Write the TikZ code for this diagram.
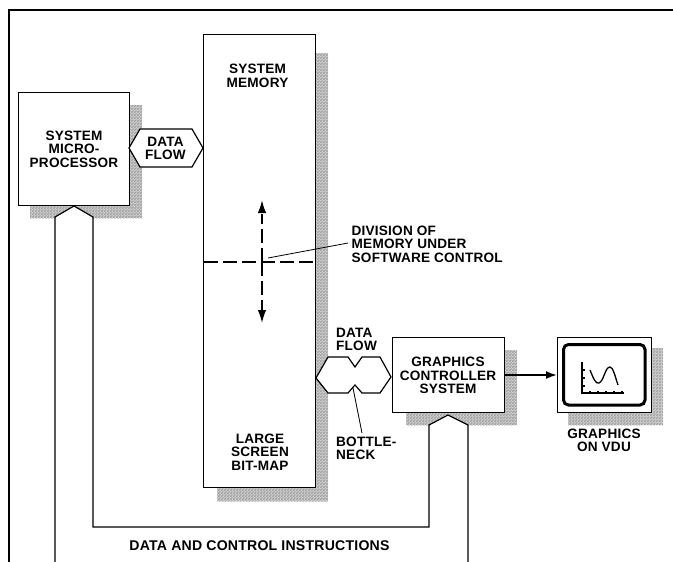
\documentclass[tikz,border=0pt]{standalone}
\usepackage{fontspec}
\setmainfont[LetterSpace=1.5]{Liberation Sans}
\usetikzlibrary{arrows.meta,patterns}
\definecolor{shade}{gray}{0.82}
\pgfdeclarepatternformonly{dither}{\pgfqpoint{-0.5pt}{-0.5pt}}{\pgfqpoint{2.5pt}{2.5pt}}{\pgfqpoint{3pt}{3pt}}{%
  \pgfpathrectangle{\pgfqpoint{0pt}{0pt}}{\pgfqpoint{1.2pt}{1.2pt}}%
  \pgfpathrectangle{\pgfqpoint{1.5pt}{1.5pt}}{\pgfqpoint{1.2pt}{1.2pt}}%
  \pgfusepath{fill}}
\tikzset{
  y=-1pt,x=1pt,
  box/.style={draw=black,line width=1.3pt,fill=white,line join=miter,inner sep=0pt,anchor=north west},
  pipe/.style={draw=black,line width=1.2pt,fill=white,line join=miter},
  shadow/.style={fill=shade,postaction={pattern=dither,pattern color=black!65},draw=none},
  lbl/.style={font=\bfseries\fontsize{13.6}{13.6}\selectfont,align=center,inner sep=0pt,text=black},
  thin line/.style={draw=black,line width=0.8pt},
  dash line/.style={draw=black,line width=1.4pt,dash pattern=on 14pt off 5pt},
  tip/.style={-{Latex[length=13pt,width=8.5pt]}}
}
\begin{document}
\begin{tikzpicture}
\useasboundingbox (0,0) rectangle (673,562);
\fill[white] (0,0) rectangle (673,562);
% outer frame
\coordinate (fbl) at (9,562);
\coordinate (ftl) at (9,9.5);
\coordinate (ftr) at (673,9.5);
\draw[line width=2pt] (fbl) -- (ftl) -- (ftr);
% shadows
\fill[shadow] (125,105) rectangle (142,218);
\fill[shadow] (30,200) rectangle (125,218);
\fill[shadow] (310,53) rectangle (328,501);
\fill[shadow] (217,480) rectangle (310,501);
\fill[shadow] (500,350) rectangle (517,425);
\fill[shadow] (406,408) rectangle (500,425);
\fill[shadow] (640,348) rectangle (663,425);
\fill[shadow] (568,408) rectangle (640,425);
% data/control pipe
\coordinate (cpa) at (55,562);
\coordinate (cpb) at (93,527);
\coordinate (cpc) at (429,527);
\coordinate (cpd) at (468,562);
\draw[pipe] (cpa) -- (55,217) -- (74,206) -- (93,217) -- (cpb) -- (cpc) -- (429,425) -- (448,415) -- (468,425) -- (cpd);
% boxes
\node[box,minimum width=111.5pt,minimum height=113.5pt] (cpu) at (17.5,91.5) {};
\node[box,minimum width=112pt,minimum height=453pt] (mem) at (203,34) {};
\node[box,minimum width=112pt,minimum height=75pt] (gfx) at (392,337) {};
% hexagon data flow
\draw[pipe] (129,148) -- (140,129) -- (192,129) -- (203,148) -- (192,167) -- (140,167) -- cycle;
\node[lbl] (df1) at (165.5,148.5) {DATA\\FLOW};
% bottleneck
\draw[pipe] (316,378) -- (328,357) -- (348,357) -- (355,367) -- (362,357) -- (380,357) -- (391,377) -- (380,393) -- (362,393) -- (355,385) -- (348,393) -- (328,393) -- cycle;
\node[lbl,align=left,anchor=west] (df2) at (336,339.5) {DATA\\FLOW};
\node[lbl,align=left,anchor=west] (bn) at (336,448.5) {BOTTLE-\\NECK};
\draw[thin line] (353,388) -- (362,433);
% labels
\node[lbl] at (74,149) {SYSTEM\\MICRO-\\PROCESSOR};
\node[lbl] (sm) at (257.5,76) {SYSTEM\\MEMORY};
\node[lbl] (ls) at (260,452) {LARGE\\SCREEN\\BIT-MAP};
\node[lbl] at (448,375.5) {GRAPHICS\\CONTROLLER\\SYSTEM};
% division
\coordinate (dl) at (204,262);
\coordinate (dr) at (315,262);
\coordinate (dc) at (262,262);
\coordinate (up) at (262,200);
\coordinate (dn) at (262,323);
\draw[dash line] (dl) -- (dr);
\draw[dash line] (dc) -- (262,214);
\draw[dash line] (dc) -- (262,312);
\draw[tip,line width=1.6pt] (262,212) -- (up);
\draw[tip,line width=1.6pt] (262,311) -- (dn);
\node[lbl,align=left,anchor=west] (div) at (351.5,244) {DIVISION OF\\MEMORY UNDER\\SOFTWARE CONTROL};
\draw[thin line] (268,258) -- (348,243);
\node[lbl,font=\bfseries\fontsize{14.1}{14}\selectfont] (dac) at (259.5,545.5) {DATA AND CONTROL INSTRUCTIONS};
% vdu
\node[box,minimum width=94pt,minimum height=75pt] (vdu) at (557,337) {};
\draw[fill=white,line width=3pt,rounded corners=5pt] (563.5,344.5) rectangle (645,405);
\draw[line width=1.1pt] (582,362) -- (582,393) -- (624,393);
\foreach \tx in {590,598,606,614,622} \draw[line width=1.1pt] (\tx,393) -- (\tx,390.5);
\foreach \ty in {370,378,386} \draw[line width=1.1pt] (582,\ty) -- (584.5,\ty);
\draw[line width=1.3pt] (590,370) .. controls (594,380) and (596,384) .. (599,383) .. controls (604,381) and (605,367) .. (610,367) .. controls (613,367) and (615,376) .. (618,385);
\node[lbl] (cap) at (604,440.5) {GRAPHICS\\ON VDU};
\draw[-{Latex[length=11pt,width=8pt]},line width=1.8pt] (gfx.east |- 0,375) -- (vdu.west |- 0,375);
\end{tikzpicture}
\end{document}
